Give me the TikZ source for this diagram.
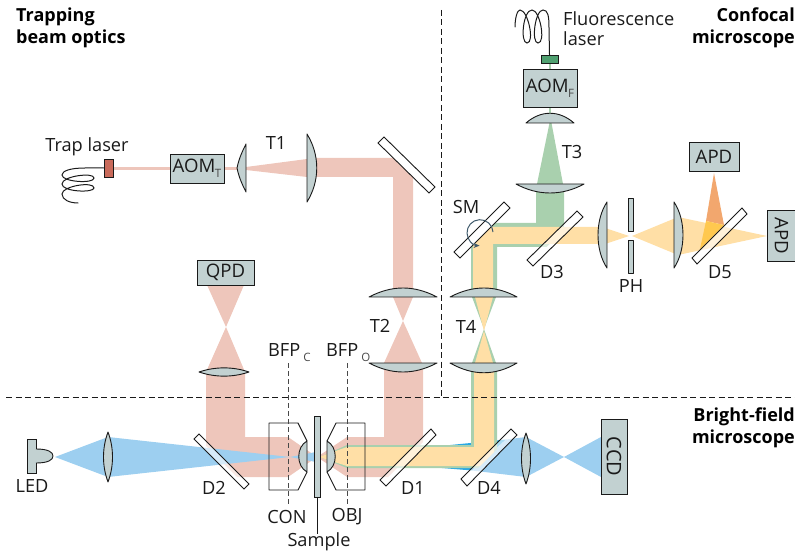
\documentclass[tikz,border=0pt]{standalone}
\usepackage{fontspec}
\setmainfont{Open Sans}
\usetikzlibrary{arrows.meta}
\definecolor{pinkb}{HTML}{EEC6BB}
\definecolor{yellowb}{HTML}{FFDFA6}
\definecolor{greenb}{HTML}{A9D0AE}
\definecolor{blueb}{HTML}{9DCFF0}
\definecolor{blued}{HTML}{2BA9E4}
\definecolor{orangeb}{HTML}{F2A76E}
\definecolor{orangey}{HTML}{FFC84F}
\definecolor{optic}{HTML}{C2D1D1}
\definecolor{inkc}{HTML}{1A1A1A}
\definecolor{armc}{HTML}{3F5A6B}
\definecolor{flas}{HTML}{4FA070}
\definecolor{tlas}{HTML}{C96A5A}
\newcommand{\lowlab}[1]{\raisebox{-5pt}{\fontsize{11.5}{11.5}\selectfont\color{inkc!80}#1}}
\tikzset{
  x=1pt,y=-1pt,
  lens/.style={draw=inkc,fill=optic,line width=0.9pt,line join=round},
  dich/.style={draw=inkc,fill=white,fill opacity=0.6,line width=0.9pt},
  mirr/.style={draw=inkc,fill=white,line width=0.9pt},
  box/.style={draw=inkc,fill=optic,line width=0.9pt,inner sep=0pt,outer sep=0pt,anchor=north west,text=inkc,font=\fontsize{18.6}{20}\selectfont},
  lab/.style={inner sep=0pt,text=inkc,font=\fontsize{18.2}{20}\selectfont},
  ttl/.style={inner sep=0pt,text=black,align=left,font=\fontsize{18}{22}\selectfont\bfseries},
  dsh/.style={draw=inkc,line width=1pt,dash pattern=on 6pt off 3.5pt},
  dshg/.style={draw=inkc!80,line width=0.9pt,dash pattern=on 5pt off 3pt},
  fibre/.style={draw=inkc,line width=1pt,line cap=round},
}
\begin{document}
\begin{tikzpicture}
\useasboundingbox (0,0) rectangle (795,553);
% --- trap beam
\fill[pinkb] (113,167) rectangle (240,170);
\fill[pinkb] (246,167) -- (307,159) -- (307,177) -- (246,170) -- cycle;
\fill[pinkb] (312,158) -- (399.5,158) -- (413,171.5) -- (413,292) -- (393,292) -- (393,177) -- (312,177) -- cycle;
\fill[pinkb] (393,297) -- (413,297) -- (403,321) -- (422,363) -- (384,363) -- (403,321) -- cycle;
\fill[pinkb] (317,457) -- (347,437) -- (384,437) -- (384,368) -- (423,368) -- (423,442) -- (388,477) -- (347,477) -- cycle;
\fill[pinkb] (206,372) -- (245,372) -- (245,437) -- (288,437) -- (317,457) -- (288,477) -- (237,477) -- (206,446) -- cycle;
\fill[pinkb] (207,285) -- (244,285) -- (226,327) -- (245,372) -- (206,372) -- (226,327) -- cycle;
% --- bright field
\fill[blueb] (55,457) -- (108,437) -- (108,477) -- cycle;
\fill[blueb] (108,437) -- (290,457) -- (108,477) -- cycle;
\fill[blueb] (290,457) -- (316,452) -- (316,462) -- cycle;
\fill[blued] (430,447) -- (506,439.5) -- (472,470.5) -- (430,467) -- cycle;
\fill[blueb] (506,439.5) -- (526,437) -- (526,477) -- (472,470.5) -- cycle;
\fill[blueb] (526,437) -- (564,457) -- (526,477) -- cycle;
\fill[blueb] (564,457) -- (601,437) -- (601,477) -- cycle;
% --- confocal green
\fill[greenb] (549,63) rectangle (551,70);
\fill[greenb] (549,107) rectangle (551,115);
\fill[greenb] (549.5,123) -- (551.5,123) -- (563,184) -- (537,184) -- cycle;
\fill[greenb] (320,457) -- (347,445) -- (471,445) -- (471,368) -- (497,368) -- (497,449) -- (478,468) -- (347,468) -- cycle;
\fill[greenb] (472,363) -- (496,363) -- (484,329) -- (496,297) -- (472,297) -- (484,329) -- cycle;
\fill[greenb] (471,292) -- (471,241) -- (489,223) -- (536,223) -- (536,190) -- (564,190) -- (564,229.5) -- (546.5,247) -- (497,247) -- (497,292) -- cycle;
% --- yellow
\fill[yellowb] (319,457) -- (347,447) -- (474,447) -- (474,368) -- (494,368) -- (494,452) -- (480,466) -- (347,466) -- cycle;
\fill[yellowb] (475,363) -- (493,363) -- (484,331) -- (493,297) -- (475,297) -- (484,331) -- cycle;
\fill[yellowb] (473,292) -- (473,239) -- (485,227) -- (602,227) -- (602,244) -- (493,244) -- (493,292) -- cycle;
\fill[yellowb] (605,228) -- (629,236) -- (605,244) -- cycle;
\fill[yellowb] (632,236) -- (678,217) -- (767,236) -- (678,255) -- cycle;
\fill[orangeb] (714,173) -- (724,225) -- (706,221) -- cycle;
\fill[orangey] (706,221) -- (724,225) -- (700,249) -- cycle;
% --- dashed guides
\path[dsh] (6,397) -- (795,397);
\path[dsh] (441,10) -- (441,397);
% --- condenser / objective housings
\draw[fill=none,draw=inkc,line width=0.9pt,line join=round] (307,441) -- (298,423) -- (269,423) -- (269,490) -- (298,490) -- (307,472);
\draw[fill=none,draw=inkc,line width=0.9pt,line join=round] (327,441) -- (336,423) -- (365,423) -- (365,490) -- (336,490) -- (327,472);
\draw[lens] (307,441) .. controls (296,447) and (296,466) .. (307,472) -- cycle;
\draw[lens] (327,441) .. controls (338,447) and (338,466) .. (327,472) -- cycle;
\draw[dshg] (288,363) -- (288,504);
\draw[dshg] (347,363) -- (347,504);
\node[draw=inkc,fill=optic,line width=0.9pt,inner sep=0pt,minimum width=6pt,minimum height=81pt] (sample) at (317,456.5) {};
\coordinate (samplelab) at (317,534);
\draw[inkc,line width=0.8pt] (sample.south) -- (samplelab);
% --- lenses
\draw[lens] (237,168) .. controls (239,158) and (243,150) .. (246,144) -- (246,192) .. controls (243,186) and (239,178) .. (237,168) -- cycle;
\draw[lens] (307,134) .. controls (320,155) and (320,181) .. (307,202) -- cycle;
\draw[lens] (369,297) .. controls (392,285) and (414,285) .. (437,297) -- cycle;
\draw[lens] (369,363) .. controls (392,375) and (414,375) .. (437,363) -- cycle;
\draw[lens] (450,297) .. controls (473,285) and (495,285) .. (517,297) -- cycle;
\draw[lens] (450,363) .. controls (473,376) and (495,376) .. (517,363) -- cycle;
\draw[lens] (199,372) .. controls (215,366.5) and (233,366.5) .. (249,372) .. controls (233,377.5) and (215,377.5) .. (199,372) -- cycle;
\draw[lens] (108,432) .. controls (102,448) and (102,466) .. (108,482) .. controls (114,466) and (114,448) .. (108,432) -- cycle;
\draw[lens] (526,433) .. controls (520,449) and (520,468) .. (526,484) .. controls (532,468) and (532,449) .. (526,433) -- cycle;
\draw[lens] (526,123) .. controls (541,110) and (559,110) .. (574,123) -- cycle;
\draw[lens] (516,184) .. controls (538,196) and (562,196) .. (584,184) -- cycle;
\draw[lens] (607,202) .. controls (595,220) and (595,250) .. (607,268) -- cycle;
\draw[lens] (674,202) .. controls (686,220) and (686,250) .. (674,268) -- cycle;
% --- pinhole
\draw[lens] (628,198) rectangle (633,231);
\draw[lens] (628,240) rectangle (633,273);
% --- mirrors and dichroics
\draw[mirr] (378,143) -- (384,137) -- (435,187) -- (429,193) -- cycle;
\draw[mirr] (454,252) -- (504,202) -- (510,208) -- (460,258) -- cycle;
\draw[dich] (527,260) -- (577,211) -- (583,217) -- (533,266) -- cycle;
\draw[dich] (692,258) -- (742,208) -- (747,214) -- (697,264) -- cycle;
\draw[dich] (380,480) -- (431,429) -- (436,435) -- (386,486) -- cycle;
\draw[dich] (461,479) -- (511,429) -- (517,435) -- (467,486) -- cycle;
\draw[dich] (194,439) -- (199,434) -- (249,484) -- (244,489) -- cycle;
% --- scan mirror rotation
\coordinate (smstart) at (493,232);
\draw[armc,line width=1pt,-{Stealth[length=6pt,width=5pt]}] (smstart) arc[start angle=-3,end angle=-268,radius=13];
% --- boxes
\node[box,minimum width=57pt,minimum height=25pt] (qpd) at (197,260) {QPD};
\node[box,minimum width=54pt,minimum height=29pt] (aomt) at (170,154) {AOM\kern-0.5pt\lowlab{T}};
\node[box,minimum width=54pt,minimum height=38pt] (aomf) at (523,69) {AOM\kern-0.5pt\lowlab{F}};
\node[box,minimum width=50pt,minimum height=29pt] (apdt) at (689,142) {APD};
\node[box,minimum width=29pt,minimum height=51pt] (apdr) at (767,210) {\rotatebox{-90}{APD}};
\node[box,minimum width=26pt,minimum height=75pt] (ccd) at (601,419) {\rotatebox{-90}{\fontsize{20}{20}\selectfont CCD}};
% --- lasers and LED
\node[draw=inkc,fill=optic,line width=0.9pt,inner sep=0pt,minimum width=8.5pt,minimum height=34pt] (led) at (31.75,456) {};
\draw[lens] (36,449) .. controls (48,449) and (53,452) .. (53,456) .. controls (53,460) and (48,463) .. (36,463);
\node[draw=inkc,fill=flas,line width=0.8pt,inner sep=0pt,minimum width=17pt,minimum height=8pt] (flaser) at (549.5,59) {};
\node[draw=inkc,fill=tlas,line width=0.8pt,inner sep=0pt,minimum width=9pt,minimum height=18pt] (tlaser) at (108.5,168) {};
\coordinate (tend) at (78,203);
\draw[fibre] (tlaser.west) -- (85,168) .. controls (70,168) and (62,171) .. (62,175) .. controls (62,182) and (94,184) .. (94,178) .. controls (94,172) and (62,176) .. (62,184) .. controls (62,192) and (94,193) .. (94,188) .. controls (94,181) and (62,186) .. (62,194) .. controls (62,200) and (70,203) .. (tend);
\coordinate (fend) at (515,27);
\draw[fibre] (flaser.north) -- (549,28) .. controls (549,16) and (548,10) .. (543,10) .. controls (535,10) and (531,43) .. (538,43) .. controls (546,43) and (540,10) .. (532,10) .. controls (523,10) and (520,43) .. (527,43) .. controls (535,43) and (528,10) .. (520,10) .. controls (517,10) and (515,19) .. (fend);
% --- labels
\node[ttl,anchor=north west] (t1) at (16,8) {Trapping\\beam optics};
\node[ttl,anchor=north east,align=right] (t2) at (795,8) {Confocal\\microscope};
\node[ttl,anchor=north east,align=right] (t3) at (795,408) {Bright-field\\microscope};
\node[lab,align=left,anchor=west] (fl) at (563,29) {Fluorescence\\laser};
\node[lab] (l1) at (87,147) {Trap laser};
\node[lab] (l2) at (276,143) {T1};
\node[lab] (l3) at (380,326) {T2};
\node[lab] (l4) at (572,152) {T3};
\node[lab] (l5) at (466,327) {T4};
\node[lab] (l6) at (466,207) {SM};
\node[lab] (l7) at (552,272) {D3};
\node[lab] (l8) at (631,286) {PH};
\node[lab] (l9) at (720,272) {D5};
\node[lab] (l10) at (489,488) {D4};
\node[lab] (l11) at (413,488) {D1};
\node[lab] (l12) at (214,488) {D2};
\node[lab] (l13) at (32,486) {LED};
\node[lab] (l14) at (287,517) {CON};
\node[lab] (l15) at (347,517) {OBJ};
\node[lab] (l16) at (319,542) {Sample};
\node[lab,anchor=west] (l17) at (268,353) {BFP\,\lowlab{C}};
\node[lab,anchor=west] (l18) at (326,353) {BFP\,\lowlab{O}};
\end{tikzpicture}
\end{document}
